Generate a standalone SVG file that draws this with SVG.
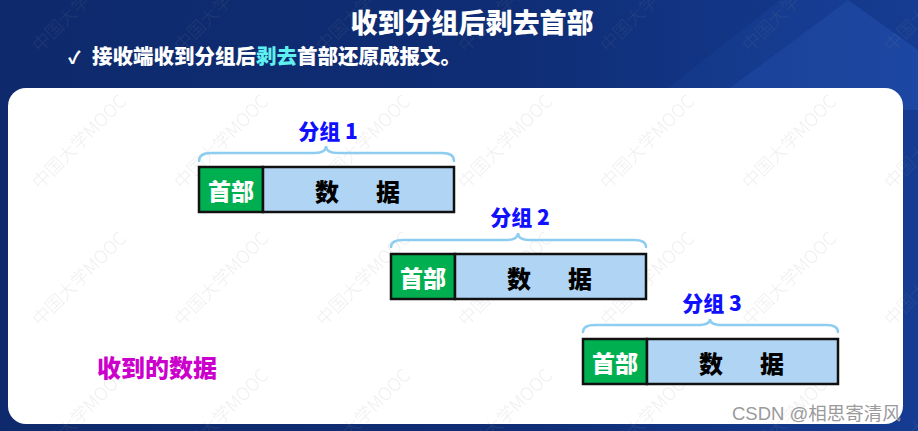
<svg xmlns="http://www.w3.org/2000/svg" width="918" height="431" viewBox="0 0 918 431">
  <defs>
    <linearGradient id="bg" x1="0" y1="0" x2="1" y2="0">
      <stop offset="0" stop-color="#0e2a6c"/>
      <stop offset="0.55" stop-color="#0f2d75"/>
      <stop offset="1" stop-color="#153c92"/>
    </linearGradient>
    <pattern id="wm" patternUnits="userSpaceOnUse" x="30" y="80" width="142" height="137">
      <text class="wmt" x="10" y="110" transform="rotate(-45 10 110)">中国大学MOOC</text>
    </pattern>
    <style>
      .cjk { font-family: "Noto Sans CJK SC", "Liberation Sans", sans-serif; font-weight: 900; }
      .wmt { font-family: "Noto Sans CJK SC", "Liberation Sans", sans-serif; font-size: 18px; font-weight: 300; fill: #8a8a8a; }
      .brace { fill: none; stroke: #8ecdf0; stroke-width: 2.5; stroke-linecap: round; }
      .hdr { fill: #00b050; stroke: #111; stroke-width: 2.5; }
      .dat { fill: #b0d4f4; stroke: #111; stroke-width: 2.5; }
      .hdrt { fill: #ffffff; font-size: 23px; text-anchor: middle; }
      .datt { fill: #000000; font-size: 24px; text-anchor: middle; }
      .lbl { fill: #1010ff; font-size: 21px; text-anchor: middle; }
    </style>
  </defs>

  <!-- background -->
  <rect x="0" y="0" width="918" height="431" fill="url(#bg)"/>
  <polygon points="848,0 700,110 918,110 918,50" fill="#2a5cc0" opacity="0.35"/>
  <polygon points="780,0 640,110 700,110 848,0" fill="#2050b0" opacity="0.2"/>
  <rect x="0" y="0" width="918" height="431" fill="url(#wm)" opacity="0.14"/>

  <!-- title -->
  <text class="cjk" x="472" y="33" font-size="27" fill="#ffffff" text-anchor="middle">收到分组后剥去首部</text>
  <text class="cjk" x="68" y="64" font-size="17" fill="#ffffff">✓</text>
  <text class="cjk" x="92" y="64" font-size="20.5" fill="#ffffff">接收端收到分组后<tspan fill="#5ff0f0">剥去</tspan>首部还原成报文。</text>

  <!-- panel -->
  <rect x="8" y="88" width="895" height="336" rx="18" ry="18" fill="#ffffff"/>
  <rect x="8" y="88" width="895" height="336" rx="18" ry="18" fill="url(#wm)" opacity="0.14"/>

  <g id="packet1">
    <text class="cjk lbl" x="328" y="139">分组 1</text>
    <rect class="hdr" x="199" y="167" width="64" height="45"/>
    <rect class="dat" x="263" y="167" width="191" height="45"/>
    <text class="cjk hdrt" x="231" y="200">首部</text>
    <text class="cjk datt" x="327" y="201">数</text>
    <text class="cjk datt" x="388" y="201">据</text>
  </g>
  <g id="packet2">
    <text class="cjk lbl" x="520" y="225">分组 2</text>
    <rect class="hdr" x="391" y="254" width="64" height="45"/>
    <rect class="dat" x="455" y="254" width="191" height="45"/>
    <text class="cjk hdrt" x="423" y="287">首部</text>
    <text class="cjk datt" x="519" y="288">数</text>
    <text class="cjk datt" x="580" y="288">据</text>
  </g>
  <g id="packet3">
    <text class="cjk lbl" x="712" y="311">分组 3</text>
    <rect class="hdr" x="583" y="339" width="64" height="45"/>
    <rect class="dat" x="647" y="339" width="191" height="45"/>
    <text class="cjk hdrt" x="615" y="372">首部</text>
    <text class="cjk datt" x="711" y="373">数</text>
    <text class="cjk datt" x="772" y="373">据</text>
  </g>

  <g id="connectors">
    <path class="brace" d="M199,161 Q199,153 211,153 L314,153 Q326,153 326,146 Q326,153 338,153 L442,153 Q454,153 454,161"/>
    <path class="brace" d="M391,247 Q391,240 403,240 L506,240 Q518,240 518,233 Q518,240 530,240 L634,240 Q646,240 646,247"/>
    <path class="brace" d="M583,332 Q583,325 595,325 L698,325 Q710,325 710,319 Q710,325 722,325 L826,325 Q838,325 838,332"/>
  </g>

  <g id="received">
    <text class="cjk" x="97" y="377" font-size="24" fill="#cc00cc">收到的数据</text>
  </g>

  <text x="732" y="420" font-family="'Liberation Sans', 'Noto Sans CJK SC', sans-serif" font-size="18.5" fill="#9a9a9a">CSDN @相思寄清风</text>
</svg>
